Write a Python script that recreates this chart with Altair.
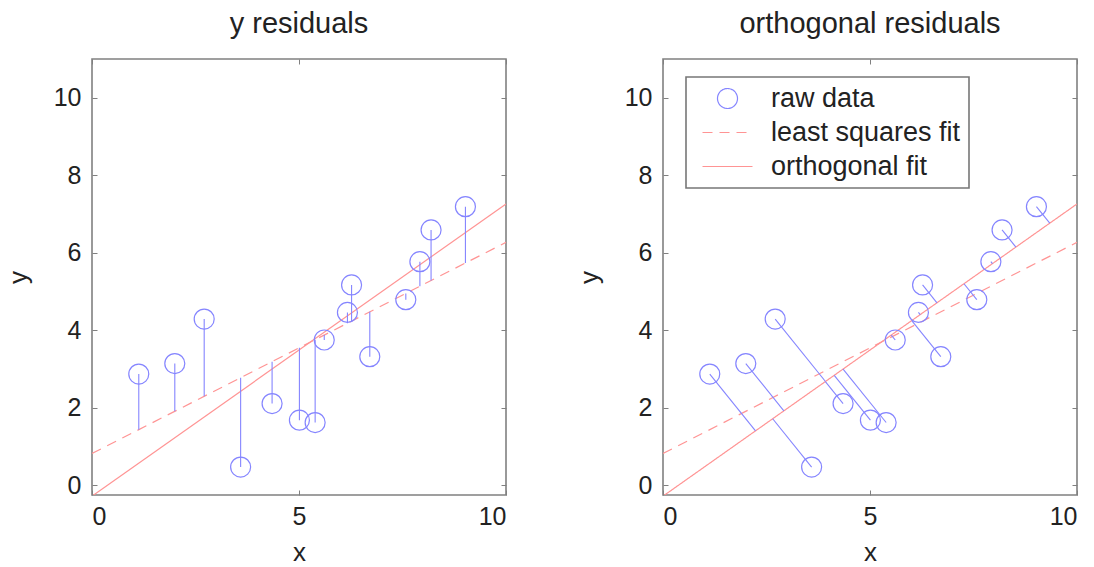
import altair as alt
import pandas as pd

# ---- data ----
x_vals = [1.13, 2.00, 2.71, 3.59, 4.35, 5.01, 5.39, 5.61, 6.17, 6.27, 6.71, 7.58, 7.92, 8.19, 9.02]
y_vals = [2.87, 3.14, 4.29, 0.47, 2.11, 1.68, 1.62, 3.75, 4.46, 5.17, 3.32, 4.79, 5.77, 6.59, 7.19]
fit_x = [0.0, 10.0]
ls_y = [0.82, 6.27]      # least squares fit end points
orth_y = [-0.28, 7.26]   # orthogonal fit end points
series_names = ["raw data", "least squares fit", "orthogonal fit"]
x_ticks = [0, 5, 10]
y_ticks = [0, 2, 4, 6, 8, 10]
titles = ["y residuals", "orthogonal residuals"]

BLUE = "#8585ff"
RED = "#ff9494"
FONT = "Liberation Sans"

# ---- derived tables ----
ls_slope = (ls_y[1] - ls_y[0]) / (fit_x[1] - fit_x[0])
ls_int = ls_y[0] - ls_slope * fit_x[0]
o_slope = (orth_y[1] - orth_y[0]) / (fit_x[1] - fit_x[0])
o_int = orth_y[0] - o_slope * fit_x[0]

pts = pd.DataFrame({"x": x_vals, "y": y_vals, "series": series_names[0]})

yres = pd.DataFrame({
    "x": x_vals, "y": y_vals, "x2": x_vals,
    "y2": [ls_int + ls_slope * xv for xv in x_vals],
})
foot = [(xv + o_slope * (yv - o_int)) / (1 + o_slope ** 2) for xv, yv in zip(x_vals, y_vals)]
ores = pd.DataFrame({
    "x": x_vals, "y": y_vals, "x2": foot,
    "y2": [o_int + o_slope * t for t in foot],
})
fits = pd.DataFrame({
    "x": fit_x + fit_x,
    "y": ls_y + orth_y,
    "series": [series_names[1]] * 2 + [series_names[2]] * 2,
})
ls_df = fits[fits["series"] == series_names[1]]
orth_df = fits[fits["series"] == series_names[2]]

xs = alt.Scale(domain=[0, 10], nice=False, zero=False)
ys = alt.Scale(domain=[-0.25, 11], nice=False, zero=False)
INWARD = {"expr": "-5"}
DASH = [10, 7]

color_scale = alt.Scale(domain=series_names, range=[BLUE, RED, RED])
dash_scale = alt.Scale(domain=series_names, range=[[1, 0], DASH, [1, 0]])
shape_scale = alt.Scale(domain=series_names, range=["circle", "M-2.5,0L2.5,0", "M-2.5,0L2.5,0"])
LEG = alt.Legend(
    title=None,
    labelExpr="datum.label == 'least squares fit' ? datum.label + '\u00a0\u00a0\u00a0\u00a0\u00a0\u00a0' : datum.label",
)


def panel(title, resid, with_legend):
    top_x = alt.X("x:Q", scale=xs, axis=alt.Axis(orient="top", values=x_ticks, labels=False,
                                                 title=None, tickSize=INWARD))
    right_y = alt.Y("y:Q", scale=ys, axis=alt.Axis(orient="right", values=y_ticks, labels=False,
                                                   title=None, tickSize=INWARD))
    no_x = alt.X("x:Q", scale=xs, axis=None)
    no_y = alt.Y("y:Q", scale=ys, axis=None)
    bx = alt.X("x:Q", scale=xs, axis=alt.Axis(values=x_ticks, title="x", tickSize=INWARD,
                                              labelPadding=14, titlePadding=10))
    ly = alt.Y("y:Q", scale=ys, axis=alt.Axis(values=y_ticks, title="y", tickSize=INWARD,
                                              labelPadding=16, titlePadding=22))
    layers = []
    if with_legend:
        layers.append(alt.Chart(fits).mark_line(strokeWidth=1.2, clip=True).encode(
            x=top_x, y=right_y,
            color=alt.Color("series:N", scale=color_scale, legend=LEG),
            strokeDash=alt.StrokeDash("series:N", scale=dash_scale, legend=LEG),
        ))
    else:
        layers.append(alt.Chart(ls_df).mark_line(strokeWidth=1.2, clip=True, color=RED,
                                                 strokeDash=DASH).encode(x=top_x, y=right_y))
        layers.append(alt.Chart(orth_df).mark_line(strokeWidth=1.2, clip=True, color=RED)
                      .encode(x=no_x, y=no_y))
    layers.append(alt.Chart(resid).mark_rule(color=BLUE, strokeWidth=1.1, clip=True).encode(
        x=no_x, y=no_y, x2="x2:Q", y2="y2:Q",
    ))
    if with_legend:
        layers.append(alt.Chart(pts).mark_point(filled=False, size=400, strokeWidth=1.2, opacity=1).encode(
            x=bx, y=ly,
            color=alt.Color("series:N", scale=color_scale, legend=LEG),
            shape=alt.Shape("series:N", scale=shape_scale, legend=LEG),
        ))
    else:
        layers.append(alt.Chart(pts).mark_point(filled=False, size=400, strokeWidth=1.2, opacity=1,
                                                color=BLUE, shape="circle").encode(x=bx, y=ly))
    return alt.layer(*layers).resolve_axis(
        x="independent", y="independent"
    ).properties(
        width=414, height=436,
        title=alt.TitleParams(title, fontSize=29, fontWeight="normal", font=FONT,
                              color="#222222", offset=20),
    )


left = panel(titles[0], yres, False)
right = panel(titles[1], ores, True)

chart = alt.hconcat(left, right, spacing=67).resolve_scale(
    color="independent", strokeDash="independent", shape="independent"
).resolve_legend(
    color="independent", strokeDash="independent", shape="independent"
).properties(
    padding={"left": 4, "top": 8, "right": 5, "bottom": 0},
    background="white",
).configure_view(
    stroke="#808080", strokeWidth=1.6
).configure_axis(
    grid=False, domain=False, tickColor="#808080", tickWidth=1,
    labelFont=FONT, labelFontSize=25, labelColor="#222222",
    titleFont=FONT, titleFontSize=26, titleFontWeight="normal", titleColor="#222222",
).configure_legend(
    orient="none", legendX=23, legendY=18,
    padding=8, strokeColor="#777777", strokeWidth=1.6, fillColor="white",
    labelFont=FONT, labelFontSize=27, labelColor="#222222", labelOffset=30, labelLimit=400,
    symbolSize=400, symbolStrokeWidth=1.2, symbolOffset=20, rowPadding=6,
    symbolFillColor="transparent",
)

chart.save("out.html", embed_options={"renderer": "svg", "actions": False})
